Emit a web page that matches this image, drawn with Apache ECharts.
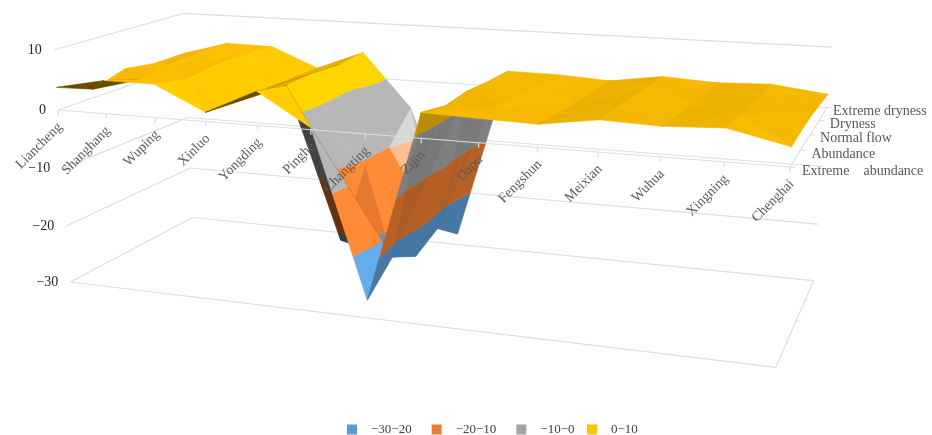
<!DOCTYPE html>
<html><head><meta charset="utf-8">
<style>html,body{margin:0;padding:0;background:#fff}#c{width:932px;height:435px}</style>
<script src="https://cdn.jsdelivr.net/npm/echarts@6/dist/echarts.min.js"></script>
</head><body><div id="c"></div>
<script>
const categories = ['Liancheng','Shanghang','Wuping','Xinluo','Yongding','Pinghe','Changting','Zijin','Dapu','Fengshun','Meixian','Wuhua','Xingning','Chenghai'];
const seriesNames = ['Extreme    abundance','Abundance','Normal flow','Dryness','Extreme dryness'];
const valueTicks = [-30,-20,-10,0,10];
const bandNames = ['\u221230\u221220','\u221220\u221210','\u221210\u22120','0\u221210'];
const bandColors = ['#5B9BD5','#ED7D31','#A5A5A5','#FFC000'];
const extremeAbundance = [3.8,5.5,5.5,1.5,5.5,0.3,-27,4,3.7,3.5,4.8,4.5,4.9,2.9];
const abundance        = [1.5,3.7,4.3,1.3,4.4,-21,-23,2.9,3.5,3,4.5,3.8,4.4,3];
const normalFlow       = [3.2,4.5,5,1.3,4.6,-10.8,-26,3.3,3.3,2.6,4.2,3.5,3.9,3];
const dryness          = [2.4,4.8,4.9,1.3,4.2,-10,-24,2.9,3,2.4,3.8,3.2,3.6,2.6];
const extremeDryness   = [2.5,4.8,4.7,1.2,4.6,-5,-28,2.8,2.7,2.2,3.5,3,3.3,2.2];
const rows = [extremeAbundance,abundance,normalFlow,dryness,extremeDryness];

// Camera: where the box corners fall in the 932x435 axis space, plus perspective terms
const cam = {o:[58,110],u:[790,167],v:[185.5,66],z:[53.7,50],a:-0.156,b:0.15,c:-0.0115};
const nC = categories.length-1, nS = rows.length-1;
function proj(c,s,val){
  const u=c/nC,v=s/nS,t=val/10;
  const w=1+cam.a*u+cam.b*v+cam.c*t;
  const f=i=>(cam.o[i]+(cam.u[i]*(1+cam.a)-cam.o[i])*u+(cam.v[i]*(1+cam.b)-cam.o[i])*v+(cam.z[i]*(1+cam.c)-cam.o[i])*t)/w;
  return [f(0),f(1),w];
}
function clip(poly,limit,keepAbove){
  const out=[];
  for(let k=0;k<poly.length;k++){
    const p=poly[k],q=poly[(k+1)%poly.length];
    const pin=keepAbove?p[2]>=limit:p[2]<=limit, qin=keepAbove?q[2]>=limit:q[2]<=limit;
    if(pin)out.push(p);
    if(pin!==qin){const t=(limit-p[2])/(q[2]-p[2]);out.push([p[0]+(q[0]-p[0])*t,p[1]+(q[1]-p[1])*t,limit]);}
  }
  return out;
}
function shade(tri){
  const zs=0.05,L=[0.75,0,0.66];
  const a=[tri[1][0]-tri[0][0],tri[1][1]-tri[0][1],(tri[1][2]-tri[0][2])*zs];
  const b=[tri[2][0]-tri[0][0],tri[2][1]-tri[0][1],(tri[2][2]-tri[0][2])*zs];
  let n=[a[1]*b[2]-a[2]*b[1],a[2]*b[0]-a[0]*b[2],a[0]*b[1]-a[1]*b[0]];
  const len=Math.hypot(n[0],n[1],n[2]);n=n.map(x=>x/len);
  const P=tri.map(p=>proj(p[0],p[1],p[2]));
  const cross=(P[1][0]-P[0][0])*(P[2][1]-P[1][1])-(P[1][1]-P[0][1])*(P[2][0]-P[1][0]);
  const under=cross>0;
  if(under)n=n.map(x=>-x);
  const d=n[0]*L[0]+n[1]*L[1]+n[2]*L[2];
  let f=0.62+0.577*d;
  if(!under)f-=0.07*tri[0][0]/nC;
  f=Math.max(0.4,Math.min(1.11,f));
  return {f,depth:(P[0][2]+P[1][2]+P[2][2])/3};
}
function tone(hex,f,glare){
  const c=[1,3,5].map(i=>parseInt(hex.substr(i,2),16));
  return 'rgb('+c.map(x=>{const m=Math.min(255,x*f);return Math.round(glare?m+(255-m)*0.45:m);}).join(',')+')';
}
const pieces=[];
const glareCell=[5,3];   // the pale, specular facet at the back of the Pinghe side of the pit
for(let s=0;s<nS;s++)for(let c=0;c<nC;c++){
  const A=[c,s,rows[s][c]],B=[c+1,s,rows[s][c+1]],C=[c+1,s+1,rows[s+1][c+1]],D=[c,s+1,rows[s+1][c]];
  const tris=(c+s)%2?[[A,B,C],[A,C,D]]:[[A,B,D],[B,C,D]];
  tris.forEach((tri,ti)=>{
    const sh=shade(tri);
    const glare=c===glareCell[0]&&s===glareCell[1]&&ti===0;
    bandColors.forEach((col,b)=>{
      let poly=clip(clip(tri,valueTicks[b],true),valueTicks[b+1],false);
      if(poly.length>=3)pieces.push({band:b,poly,f:sh.f,depth:sh.depth,glare});
    });
  });
}
pieces.sort((p,q)=>q.depth-p.depth);
pieces.forEach((p,i)=>p.rank=i+1);

// Wall and floor lines, drawn as [c1,s1,v1,c2,s2,v2]
const backLines=[];
valueTicks.forEach(v=>{backLines.push([0,0,v,0,nS,v]);backLines.push([0,nS,v,nC,nS,v]);});
backLines.push([0,0,-30,nC,0,-30]);backLines.push([nC,0,-30,nC,nS,-30]);
for(let s=1;s<nS;s++)backLines.push([nC,s,-30,nC+0.04,s,-30]);
const axisLines=[[0,0,0,nC,0,0],[nC,0,0,nC,nS,0]];

const textColor='#595959',font='14px "Liberation Serif"';
const seriesLabelGap=[12,11,10,11,6];
function lineRender(list){return function(p,api){
  const l=list[p.dataIndex];
  const a=proj(l[0],l[1],l[2]),b=proj(l[3],l[4],l[5]);
  const A=api.coord([a[0],a[1]]),B=api.coord([b[0],b[1]]);
  return {type:'line',shape:{x1:A[0],y1:A[1],x2:B[0],y2:B[1]},style:{stroke:'#DDDDDD',lineWidth:1.2}};
};}
function ids(list){return list.map((_,i)=>[i,i]);}
const hidden={type:'value',show:false,min:0};
const legendBase={top:418,itemWidth:10,itemHeight:10,itemGap:20,icon:'rect',selectedMode:false,
  textStyle:{fontFamily:'Liberation Serif',fontSize:13,color:'#404040',padding:[0,0,0,9]}};
const option={
  animation:false,
  grid:{left:0,right:0,top:0,bottom:0},
  xAxis:{...hidden,max:932},
  yAxis:{...hidden,max:435,inverse:true},
  tooltip:{show:false},
  legend:[{...legendBase,left:342,data:bandNames.slice(0,3)},{...legendBase,left:582,data:bandNames.slice(3)}],
  series:[
    {type:'custom',name:'walls',silent:true,z:1,data:ids(backLines),renderItem:lineRender(backLines)},
    ...bandNames.map((name,b)=>{
      const mine=pieces.filter(p=>p.band===b);
      return {type:'custom',name,silent:true,z:2,itemStyle:{color:bandColors[b]},data:ids(mine),
        renderItem(p,api){
          const it=mine[p.dataIndex];
          const pts=it.poly.map(q=>{const r=proj(q[0],q[1],q[2]);return api.coord([r[0],r[1]]);});
          const fill=tone(bandColors[b],it.f,it.glare);
          return {type:'polygon',z2:it.rank,shape:{points:pts},style:{fill,stroke:fill,lineWidth:0.6}};
        }};
    }),
    {type:'custom',name:'axes',silent:true,z:3,data:[[0,0]],renderItem(p,api){
      const kids=[];
      const at=(c,s,v)=>{const r=proj(c,s,v);return api.coord([r[0],r[1]]);};
      const seg=(a,b)=>kids.push({type:'line',shape:{x1:a[0],y1:a[1],x2:b[0],y2:b[1]},style:{stroke:'#DDDDDD',lineWidth:1.2}});
      axisLines.forEach(l=>seg(at(l[0],l[1],l[2]),at(l[3],l[4],l[5])));
      categories.forEach((name,c)=>{
        const a=at(c,0,0);seg(a,[a[0],a[1]+5]);
        kids.push({type:'text',x:a[0]+2,y:a[1]+15,rotation:Math.PI/4,silent:true,
          style:{text:name,align:'right',verticalAlign:'middle',fill:textColor,font}});
      });
      seriesNames.forEach((name,s)=>{
        const a=at(nC,s,0);seg(a,[a[0]+5,a[1]]);
        kids.push({type:'text',x:a[0]+seriesLabelGap[s],y:a[1]+4,style:{text:name,align:'left',verticalAlign:'middle',fill:textColor,font}});
      });
      valueTicks.forEach(v=>{
        const a=at(0,0,v);
        kids.push({type:'text',x:a[0]-12,y:a[1],style:{text:(v<0?'\u2212':'')+Math.abs(v),align:'right',verticalAlign:'middle',fill:'#262626',font}});
      });
      return {type:'group',children:kids};
    }}
  ]
};
echarts.init(document.getElementById('c'),null,{renderer:'canvas'}).setOption(option);
</script></body></html>
